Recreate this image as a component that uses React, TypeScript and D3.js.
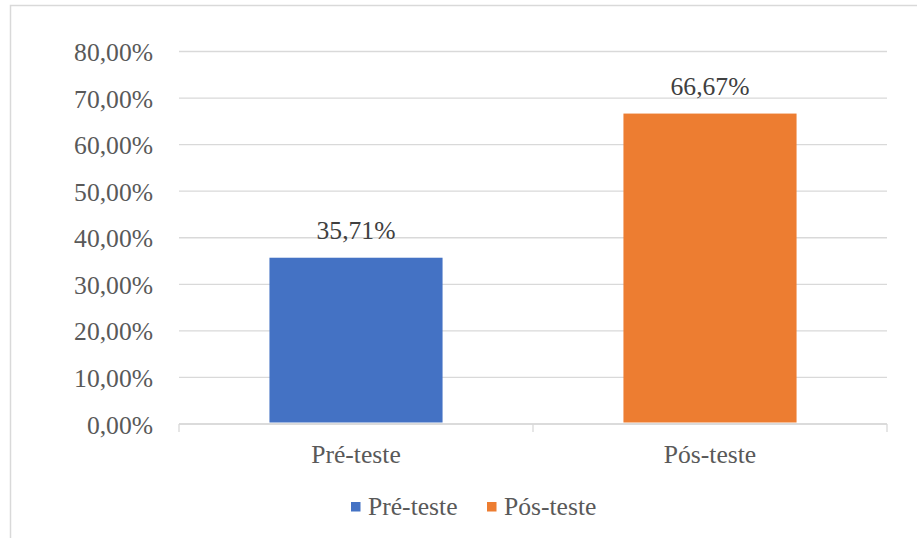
import React from 'react';
import * as d3 from 'd3';

const categories = ['Pré-teste', 'Pós-teste'];
const values = [35.71, 66.67];
const colors = ['#4472C4', '#ED7D31'];
const yTicks = [0, 10, 20, 30, 40, 50, 60, 70, 80];

const fmt = (v: number) => v.toFixed(2).replace('.', ',') + '%';

const App: React.FC = () => {
  const width = 917;
  const height = 538;
  const left = 179;
  const right = 887;
  const top = 51.5;
  const bottom = 424;
  const font = '"Liberation Serif", "Times New Roman", serif';

  const x = d3.scaleBand<string>().domain(categories).range([left, right]).padding(0);
  const y = d3.scaleLinear().domain([0, 80]).range([bottom, top]);
  const barW = x.bandwidth() * 0.489;

  return (
    <div style={{ position: 'fixed', left: 0, top: 0 }}>
      <svg width={width} height={height} style={{ display: 'block', background: '#fff' }}>
        {/* Chart border */}
        <rect x={10.5} y={5.5} width={width + 20} height={height + 20} fill="#fff" stroke="#d9d9d9" strokeWidth={1.5} />

        {/* Gridlines */}
        {yTicks.map((t) => (
          <line key={t} x1={left} x2={right} y1={y(t)} y2={y(t)} stroke="#d9d9d9" strokeWidth={1.3} />
        ))}

        {/* Y axis labels */}
        {yTicks.map((t) => (
          <text key={'l' + t} x={153} y={y(t) + 9.5} textAnchor="end" fill="#595959" fontSize={25.6} fontFamily={font}>
            {fmt(t)}
          </text>
        ))}

        {/* Bars */}
        {categories.map((c, i) => {
          const cx = (x(c) ?? 0) + x.bandwidth() / 2;
          return (
            <g key={c}>
              <rect x={cx - barW / 2} y={y(values[i])} width={barW} height={bottom - 1.5 - y(values[i])} fill={colors[i]} />
              <text x={cx} y={y(values[i]) - 19} textAnchor="middle" fill="#404040" fontSize={25.6} fontFamily={font}>
                {fmt(values[i])}
              </text>
            </g>
          );
        })}

        {/* X axis */}
        <line x1={left} x2={right} y1={bottom} y2={bottom} stroke="#d9d9d9" strokeWidth={1.3} />
        {[...categories.map((c) => x(c) ?? 0), right].map((tx, i) => (
          <line key={'t' + i} x1={tx} x2={tx} y1={bottom} y2={bottom + 8} stroke="#d9d9d9" strokeWidth={1.3} />
        ))}
        {categories.map((c) => (
          <text key={'c' + c} x={(x(c) ?? 0) + x.bandwidth() / 2} y={463} textAnchor="middle" fill="#595959" fontSize={25.6} fontFamily={font}>
            {c}
          </text>
        ))}

        {/* Legend */}
        {categories.map((c, i) => {
          const lx = i === 0 ? 351 : 487;
          return (
            <g key={'lg' + c}>
              <rect x={lx} y={502} width={9.5} height={9.5} fill={colors[i]} />
              <text x={lx + 17} y={514.5} fill="#595959" fontSize={25.6} fontFamily={font}>
                {c}
              </text>
            </g>
          );
        })}
      </svg>
    </div>
  );
};

export default App;
